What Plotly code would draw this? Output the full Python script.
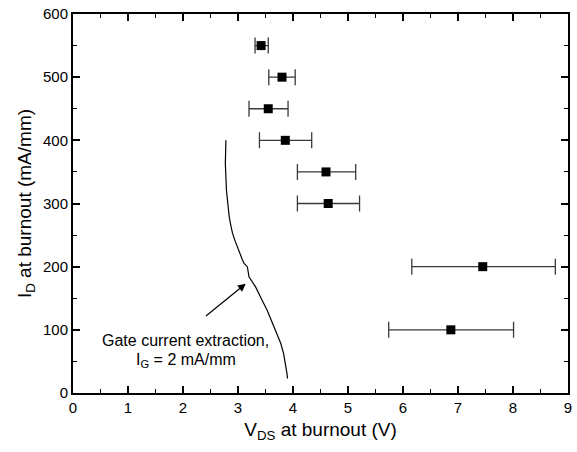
import plotly.graph_objects as go

# Measured points
vds = [3.42, 3.80, 3.55, 3.86, 4.60, 4.64, 7.45, 6.87]
id_ = [550, 500, 450, 400, 350, 300, 200, 100]
err_lo = [0.11, 0.24, 0.35, 0.47, 0.52, 0.56, 1.29, 1.13]
err_hi = [0.13, 0.24, 0.36, 0.48, 0.54, 0.57, 1.32, 1.14]

# Gate current extraction curve
curve_x = [2.78, 2.77, 2.77, 2.79, 2.81, 2.84, 2.87, 2.90, 2.95, 2.99, 3.03, 3.05, 3.08, 3.11,
           3.17, 3.20, 3.25, 3.32, 3.42, 3.53, 3.62, 3.71, 3.78, 3.83, 3.87, 3.89, 3.90]
curve_y = [400, 380, 363, 321, 300, 279, 265, 253, 240, 231, 222, 215, 211, 205,
           200, 184, 178, 168, 150, 131, 112, 94, 78, 62, 45, 31, 23]

fig = go.Figure()
fig.add_trace(go.Scatter(x=curve_x, y=curve_y, mode="lines",
                         line=dict(color="black", width=1.2), showlegend=False,
                         hoverinfo="skip"))
fig.add_trace(go.Scatter(
    x=vds, y=id_, mode="markers",
    marker=dict(symbol="square", size=9, color="black"),
    error_x=dict(type="data", symmetric=False, array=err_hi, arrayminus=err_lo,
                 color="#3a3a3a", thickness=1.3, width=8),
    showlegend=False))

fig.add_annotation(x=3.14, y=173, ax=2.39, ay=120, xref="x", yref="y",
                   axref="x", ayref="y", showarrow=True, arrowhead=2,
                   arrowsize=1.3, arrowwidth=1.2, arrowcolor="black", text="")
fig.add_annotation(x=2.05, y=83, xref="x", yref="y", showarrow=False,
                   text="Gate current extraction,", font=dict(size=16, color="black"))
fig.add_annotation(x=2.05, y=52, xref="x", yref="y", showarrow=False,
                   text="I<sub>G</sub> = 2 mA/mm", font=dict(size=16, color="black"))

axis_common = dict(showgrid=False, zeroline=False, showline=True, linecolor="black",
                   linewidth=2, mirror="ticks", ticks="inside", ticklen=7, tickwidth=1.5,
                   tickcolor="black", tickfont=dict(size=15, color="black"))

fig.update_xaxes(range=[0, 9], dtick=1, tick0=0,
                 minor=dict(ticks="inside", ticklen=4, dtick=0.5, tickcolor="black", tickwidth=1.2),
                 title=dict(text="V<sub>DS</sub> at burnout (V)", font=dict(size=19, color="black"),
                            standoff=8),
                 **axis_common)
fig.update_yaxes(range=[0, 600], dtick=100, tick0=0,
                 minor=dict(ticks="inside", ticklen=4, dtick=50, tickcolor="black", tickwidth=1.2),
                 title=dict(text="I<sub>D</sub> at burnout (mA/mm)", font=dict(size=19, color="black"),
                            standoff=6),
                 **axis_common)

fig.update_layout(width=577, height=452, margin=dict(l=73, r=5, t=14, b=59),
                  plot_bgcolor="white", paper_bgcolor="white",
                  font=dict(family="Arial, Liberation Sans, sans-serif", color="black"))

fig.write_html("out.html")
